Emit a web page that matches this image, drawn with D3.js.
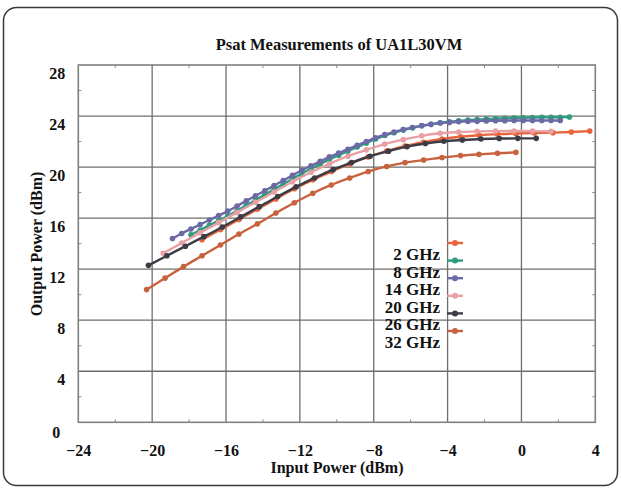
<!DOCTYPE html>
<html lang="en">
<head>
<meta charset="UTF-8">
<title>Psat Measurements of UA1L30VM</title>
<script src="https://d3js.org/d3.v7.min.js"></script>
<style>
  body { margin: 0; background: #fff; }
  svg text { font-family: "Liberation Serif", "Times New Roman", serif; font-weight: bold; fill: #111; }
</style>
</head>
<body>
<div id="chart"></div>
<script>
// series names and colours
const seriesNames = ["2 GHz", "8 GHz", "14 GHz", "20 GHz", "26 GHz", "32 GHz"];
const seriesColors = ["#e8643c", "#2e9c7e", "#6c6aa6", "#e8a0a4", "#3c3c46", "#c8623e"];

// input power (dBm) for each series
const pin2 = d3.range(-17.3, 3.71, 1);
const pin8 = d3.range(-17.9, 2.61, 0.5);
const pin14 = d3.range(-18.9, 2.11, 0.5);
const pin20 = d3.range(-19.4, 1.61, 1);
const pin26 = d3.range(-20.2, 0.81, 1);
const pin32 = d3.range(-20.3, -0.29, 1);

// output power (dBm)
const pout2 = [14.3, 15.1, 15.9, 16.7, 17.5, 18.3, 19.0, 19.65, 20.25, 20.8, 21.25, 21.65, 21.95, 22.2,
  22.38, 22.5, 22.58, 22.63, 22.67, 22.7, 22.75, 22.82];
const pout8 = [14.7, 15.07, 15.43, 15.8, 16.17, 16.59, 17.0, 17.42, 17.84, 18.25, 18.67, 19.09, 19.5,
  19.87, 20.24, 20.61, 20.93, 21.25, 21.57, 21.88, 22.2, 22.47, 22.69, 22.9, 23.07, 23.23, 23.35, 23.47,
  23.55, 23.62, 23.68, 23.72, 23.76, 23.79, 23.82, 23.85, 23.87, 23.88, 23.9, 23.9, 23.91, 23.92];
const pout14 = [14.4, 14.8, 15.15, 15.5, 15.85, 16.2, 16.55, 16.95, 17.35, 17.75, 18.15, 18.55, 18.95,
  19.35, 19.75, 20.1, 20.45, 20.8, 21.1, 21.4, 21.7, 22.0, 22.3, 22.55, 22.75, 22.95, 23.1, 23.25, 23.35,
  23.45, 23.5, 23.55, 23.58, 23.6, 23.62, 23.63, 23.64, 23.65, 23.65, 23.65, 23.65, 23.65, 23.65];
const pout20 = [13.25, 14.05, 14.85, 15.65, 16.45, 17.25, 18.05, 18.85, 19.6, 20.25, 20.85, 21.35, 21.8,
  22.15, 22.45, 22.65, 22.75, 22.8, 22.82, 22.83, 22.82, 22.8];
const pout26 = [12.3, 13.05, 13.8, 14.55, 15.3, 16.1, 16.9, 17.7, 18.45, 19.15, 19.8, 20.35, 20.85, 21.25,
  21.6, 21.85, 22.02, 22.12, 22.2, 22.24, 22.25, 22.25];
const pout32 = [10.4, 11.3, 12.2, 13.05, 13.9, 14.75, 15.55, 16.4, 17.2, 17.95, 18.6, 19.15, 19.65, 20.05,
  20.35, 20.55, 20.75, 20.9, 21.0, 21.08, 21.15];

const xTicks = [-24, -20, -16, -12, -8, -4, 0, 4];
const yTicks = [0, 4, 8, 12, 16, 20, 24, 28];

const pins = [pin2, pin8, pin14, pin20, pin26, pin32];
const pouts = [pout2, pout8, pout14, pout20, pout26, pout32];
const series = seriesNames.map((name, i) => ({
  name: name,
  color: seriesColors[i],
  values: pins[i].map((x, j) => ({ x: x, y: pouts[i][j] }))
}));

const W = 621, H = 489;
const margin = { left: 78.3, right: 25.7, top: 65, bottom: 66.7 };

const svg = d3.select('#chart').append('svg')
  .attr('width', W).attr('height', H);

// outer rounded frame
svg.append('rect')
  .attr('x', 3.5).attr('y', 7.5).attr('width', 614).attr('height', 478)
  .attr('rx', 13).attr('fill', 'none').attr('stroke', '#3a3a3a').attr('stroke-width', 1.5);

const x = d3.scaleLinear().domain([-24, 4]).range([margin.left, W - margin.right]);
const y = d3.scaleLinear().domain([0, 28]).range([H - margin.bottom, margin.top]);

// grid
const grid = svg.append('g');
grid.selectAll('.vg').data(xTicks.slice(1, -1)).enter().append('line')
  .attr('x1', d => x(d)).attr('x2', d => x(d))
  .attr('y1', y(0)).attr('y2', y(28))
  .attr('stroke', '#6e6e6e').attr('stroke-width', 1.3);
grid.selectAll('.hg').data(yTicks.slice(1, -1)).enter().append('line')
  .attr('x1', x(-24)).attr('x2', x(4))
  .attr('y1', d => y(d)).attr('y2', d => y(d))
  .attr('stroke', '#6e6e6e').attr('stroke-width', 1.3);

// minor ticks at midpoints, pointing inward
const xMinor = d3.range(-22, 4, 4);
const yMinor = d3.range(2, 28, 4);
const tk = svg.append('g').attr('stroke', '#888').attr('stroke-width', 1);
xMinor.forEach(v => {
  tk.append('line').attr('x1', x(v)).attr('x2', x(v)).attr('y1', y(0)).attr('y2', y(0) - 3);
  tk.append('line').attr('x1', x(v)).attr('x2', x(v)).attr('y1', y(28)).attr('y2', y(28) + 3);
});
yMinor.forEach(v => {
  tk.append('line').attr('x1', x(-24)).attr('x2', x(-24) + 3).attr('y1', y(v)).attr('y2', y(v));
  tk.append('line').attr('x1', x(4)).attr('x2', x(4) - 3).attr('y1', y(v)).attr('y2', y(v));
});

// plot frame
svg.append('rect')
  .attr('x', x(-24)).attr('y', y(28))
  .attr('width', x(4) - x(-24)).attr('height', y(0) - y(28))
  .attr('fill', 'none').attr('stroke', '#808080').attr('stroke-width', 1.6);

// axes (labels only)
const xAxis = svg.append('g')
  .attr('transform', `translate(0,${y(0) + 19})`)
  .call(d3.axisBottom(x).tickValues(xTicks).tickSize(0).tickFormat(d3.format('d')));
xAxis.select('.domain').remove();
xAxis.selectAll('text').attr('font-size', 16).attr('dy', '0.71em');

const yAxis = svg.append('g')
  .attr('transform', `translate(${x(-24) - 10},8)`)
  .call(d3.axisLeft(y).tickValues(yTicks).tickSize(0).tickFormat(d3.format('d')));
yAxis.select('.domain').remove();
yAxis.selectAll('text').attr('font-size', 16);
yAxis.selectAll('.tick').filter(d => d === 0)
  .select('text').attr('dx', -5).attr('dy', '0.45em');

// titles
svg.append('text')
  .attr('x', 339).attr('y', 50).attr('text-anchor', 'middle')
  .attr('font-size', 16.5).text('Psat Measurements of UA1L30VM');
svg.append('text')
  .attr('x', 337).attr('y', 473).attr('text-anchor', 'middle')
  .attr('font-size', 16).text('Input Power (dBm)');
svg.append('text')
  .attr('transform', 'translate(42,244) rotate(-90)').attr('text-anchor', 'middle')
  .attr('font-size', 16).text('Output Power (dBm)');

// series
const line = d3.line().x(d => x(d.x)).y(d => y(d.y)).curve(d3.curveMonotoneX);
const sg = svg.selectAll('.series').data(series).enter().append('g');
sg.append('path')
  .attr('d', d => line(d.values))
  .attr('fill', 'none').attr('stroke', d => d.color).attr('stroke-width', 2.4);
sg.each(function (s) {
  d3.select(this).selectAll('circle').data(s.values).enter().append('circle')
    .attr('cx', d => x(d.x)).attr('cy', d => y(d.y)).attr('r', 2.8)
    .attr('fill', s.color);
});

// legend
const lg = svg.append('g');
series.forEach((s, i) => {
  const cy = 254 + i * 17.6;
  lg.append('text').attr('x', 440).attr('y', cy).attr('dy', '0.35em')
    .attr('text-anchor', 'end').attr('font-size', 17).text(s.name);
  lg.append('line').attr('x1', 447).attr('x2', 463)
    .attr('y1', cy - 11).attr('y2', cy - 11)
    .attr('stroke', s.color).attr('stroke-width', 2.4);
  lg.append('circle').attr('cx', 455).attr('cy', cy - 11).attr('r', 3).attr('fill', s.color);
});
</script>
</body>
</html>
